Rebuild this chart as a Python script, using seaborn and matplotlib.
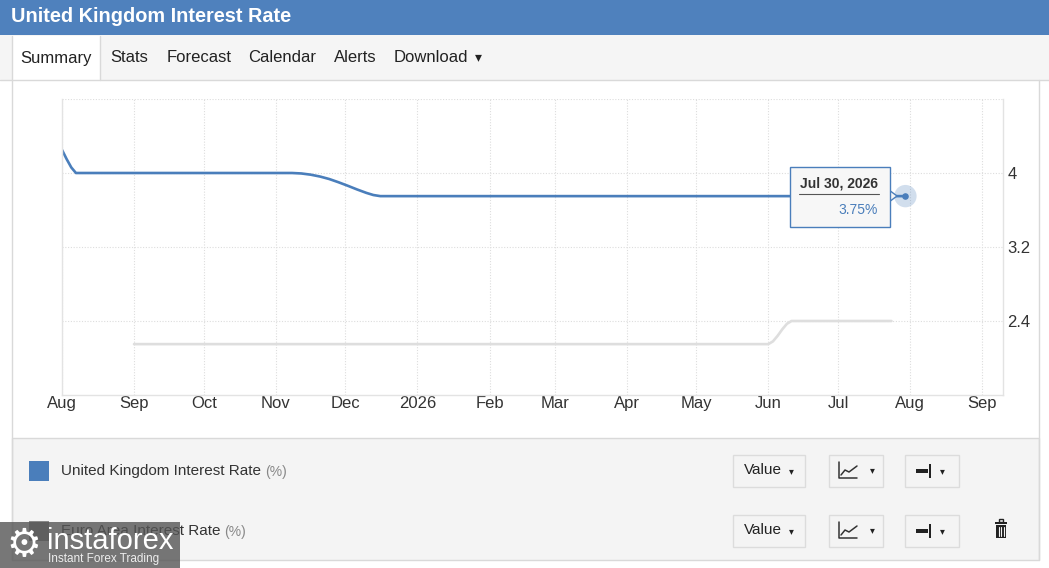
import pandas as pd
import numpy as np
import matplotlib
matplotlib.use('Agg')
import matplotlib.pyplot as plt
import matplotlib.dates as mdates
from matplotlib.patches import Rectangle, Circle, FancyBboxPatch, Polygon
from matplotlib.lines import Line2D
import seaborn as sns

# data
uk_dates = ['2025-08-01', '2025-08-03', '2025-08-05', '2025-08-07', '2025-11-08', '2025-11-12',
            '2025-11-16', '2025-11-20', '2025-11-24', '2025-11-28', '2025-12-02', '2025-12-06',
            '2025-12-10', '2025-12-13', '2025-12-16', '2026-07-30']
uk_rate = [4.25, 4.15, 4.06, 4.0, 4.0, 3.995, 3.982, 3.962, 3.935, 3.90, 3.862, 3.822,
           3.785, 3.762, 3.75, 3.75]
ea_dates = ['2025-09-01', '2026-06-01', '2026-06-03', '2026-06-05', '2026-06-07',
            '2026-06-09', '2026-06-11', '2026-07-24']
ea_rate = [2.15, 2.15, 2.18, 2.24, 2.31, 2.37, 2.4, 2.4]
series_names = ['United Kingdom Interest Rate', 'Euro Area Interest Rate']
month_labels = ['Aug', 'Sep', 'Oct', 'Nov', 'Dec', '2026', 'Feb', 'Mar', 'Apr',
                'May', 'Jun', 'Jul', 'Aug', 'Sep']
y_ticks = [2.4, 3.2, 4.0, 4.8]
y_labels = ['2.4', '3.2', '4', '']
tabs = ['Summary', 'Stats', 'Forecast', 'Calendar', 'Alerts', 'Download']

df = pd.concat([
    pd.DataFrame({'date': pd.to_datetime(uk_dates), 'rate': uk_rate, 'series': series_names[0]}),
    pd.DataFrame({'date': pd.to_datetime(ea_dates), 'rate': ea_rate, 'series': series_names[1]}),
])

W, H = 1049, 568
BLUE = '#4a7ebb'
HEAD = '#4f81bd'
GREY_LINE = '#dedede'
PANEL = '#f4f4f4'
BORDER = '#d9d9d9'

sns.set_theme(style='white')
plt.rcParams['font.family'] = ['Liberation Sans', 'DejaVu Sans']

fig = plt.figure(figsize=(W / 100, H / 100), dpi=100)
fig.patch.set_facecolor('white')


def fx(x):
    return x / W


def fy(y):
    return 1 - y / H


def rect(x0, y0, x1, y1, **kw):
    fig.patches.append(Rectangle((fx(x0), fy(y1)), fx(x1) - fx(x0), fy(y0) - fy(y1),
                                 transform=fig.transFigure, **kw))


def hline(x0, x1, y, **kw):
    fig.lines.append(Line2D([fx(x0), fx(x1)], [fy(y), fy(y)], transform=fig.transFigure, **kw))


def vline(x, y0, y1, **kw):
    fig.lines.append(Line2D([fx(x), fx(x)], [fy(y0), fy(y1)], transform=fig.transFigure, **kw))


# header
rect(0, 0, W, 35, facecolor=HEAD, edgecolor='none')
fig.text(fx(11), fy(17), 'United Kingdom Interest Rate', color='white', fontsize=14.3,
         fontweight='bold', va='center', ha='left')

# tab bar
rect(0, 35, W, 80, facecolor='#f5f5f5', edgecolor='none')
hline(0, W, 80, color=BORDER, lw=1)
rect(12, 36, 100, 80.5, facecolor='white', edgecolor='none')
vline(12, 36, 80, color=BORDER, lw=1)
vline(100, 36, 80, color=BORDER, lw=1)
tab_x = [56, 129, 199, 282, 355, 431]
for t, x in zip(tabs, tab_x):
    fig.text(fx(x), fy(58), t, fontsize=12, color='#222222', ha='center', va='center')
fig.text(fx(478), fy(57), '▾', fontsize=10, color='#222222', ha='center', va='center',
         family=['DejaVu Sans'])

# side borders of the content box
vline(12, 80, 560, color=BORDER, lw=1)
vline(1039, 80, 560, color=BORDER, lw=1)

# chart
ax = fig.add_axes([fx(62), fy(395), fx(1003) - fx(62), fy(99) - fy(395)])
sns.lineplot(data=df, x='date', y='rate', hue='series',
             palette={series_names[0]: BLUE, series_names[1]: GREY_LINE},
             linewidth=1.9, legend=False, ax=ax)
ax.set_xlim(pd.Timestamp('2025-08-01'), pd.Timestamp('2026-09-10'))
ax.set_ylim(1.6, 4.8)
month_ticks = pd.date_range('2025-08-01', '2026-09-01', freq='MS')
ax.set_xticks(month_ticks)
ax.set_xticklabels(month_labels)
ax.set_yticks(y_ticks)
ax.set_yticklabels(y_labels)
ax.yaxis.tick_right()
ax.tick_params(axis='x', length=0, pad=1, labelsize=12, labelcolor='#333333')
ax.tick_params(axis='y', length=0, pad=3, labelsize=12, labelcolor='#333333')
ax.grid(True, linestyle=(0, (1, 1.5)), color='#dddddd', linewidth=0.8)
ax.set_xlabel('')
ax.set_ylabel('')
ax.spines['top'].set_visible(False)
for s in ['left', 'right', 'bottom']:
    ax.spines[s].set_color('#e3e3e3')
    ax.spines[s].set_linewidth(1)
ax.set_facecolor('white')

# hovered point
last_date = pd.Timestamp(uk_dates[-1])
ax.scatter([last_date], [uk_rate[-1]], s=260, color=BLUE, alpha=0.25, edgecolor='none', zorder=4)
ax.scatter([last_date], [uk_rate[-1]], s=14, color=BLUE, zorder=5)

# tooltip
fig.patches.append(Polygon([[fx(889), fy(190)], [fx(897), fy(196)], [fx(889), fy(202)]],
                           closed=True, transform=fig.transFigure, facecolor='#f7f7f7',
                           edgecolor=BLUE, lw=1, zorder=6))
rect(790, 167, 890, 227, facecolor='#f7f7f7', edgecolor=BLUE, lw=1, zorder=7)
fig.text(fx(839), fy(184), 'Jul 30, 2026', fontsize=10, fontweight='bold', color='#333333',
         ha='center', va='center', zorder=8)
hline(799, 879, 194, color='#555555', lw=0.8, zorder=8)
fig.text(fx(878), fy(210), '{:.2f}%'.format(uk_rate[-1]), fontsize=10, color=BLUE,
         ha='right', va='center', zorder=8)

# legend / series panel
rect(12, 438, 1039, 560, facecolor=PANEL, edgecolor=BORDER, lw=1)
row_y = [471, 531]
sq_col = [BLUE, '#8a8a8a']
for name, y, c in zip(series_names, row_y, sq_col):
    rect(29, y - 10, 49, y + 10, facecolor=c, edgecolor='none')
    t = fig.text(fx(61), fy(y), name, fontsize=11, color='#333333', ha='left', va='center')
    fig.canvas.draw()
    bb = t.get_window_extent()
    fig.text(bb.x1 / W + fx(4), fy(y + 1), '(%)', fontsize=10, color='#888888',
             ha='left', va='center')
    # Value dropdown
    rect(733, y - 16, 805, y + 16, facecolor='#f4f4f4', edgecolor='#dcdcdc', lw=1)
    fig.text(fx(763), fy(y - 1), 'Value', fontsize=11, color='#222222', ha='center', va='center')
    fig.text(fx(791), fy(y), '▾', fontsize=7, color='#222222', ha='center', va='center',
             family=['DejaVu Sans'])
    # chart type dropdown
    rect(829, y - 16, 883, y + 16, facecolor='#f4f4f4', edgecolor='#dcdcdc', lw=1)
    fig.lines.append(Line2D([fx(839), fx(839), fx(857)], [fy(y - 9), fy(y + 7), fy(y + 7)],
                            transform=fig.transFigure, color='#333333', lw=1.1))
    fig.lines.append(Line2D([fx(841), fx(845), fx(849), fx(857)],
                            [fy(y + 4), fy(y - 1), fy(y + 1), fy(y - 5)],
                            transform=fig.transFigure, color='#333333', lw=1.1))
    fig.text(fx(872), fy(y - 1), '▾', fontsize=7, color='#222222', ha='center', va='center',
             family=['DejaVu Sans'])
    # axis side dropdown
    rect(905, y - 16, 959, y + 16, facecolor='#f4f4f4', edgecolor='#dcdcdc', lw=1)
    rect(916, y - 2, 928, y + 2, facecolor='#222222', edgecolor='none')
    rect(929, y - 7, 931, y + 7, facecolor='#222222', edgecolor='none')
    fig.text(fx(942), fy(y), '▾', fontsize=7, color='#222222', ha='center', va='center',
             family=['DejaVu Sans'])

# trash icon
rect(995, 522, 1007, 524, facecolor='#222222', edgecolor='none')
rect(999, 519, 1003, 522, facecolor='none', edgecolor='#222222', lw=1)
rect(996, 525, 1006, 538, facecolor='#222222', edgecolor='none')
for x in [998.5, 1001, 1003.5]:
    vline(x, 527, 536, color=PANEL, lw=0.8)

# watermark
rect(0, 522, 180, 568, facecolor='#555555', edgecolor='none', alpha=0.8, zorder=9)
fig.text(fx(24), fy(545), '⚙', fontsize=28, color='white', ha='center', va='center',
         family=['DejaVu Sans'], zorder=10)
fig.text(fx(47), fy(541), 'instaforex', fontsize=21, color='white', ha='left', va='center',
         zorder=10)
fig.text(fx(48), fy(559), 'Instant Forex Trading', fontsize=8.5, color='#eeeeee',
         ha='left', va='center', zorder=10)

fig.savefig('out.png', dpi=100, facecolor=fig.get_facecolor())
